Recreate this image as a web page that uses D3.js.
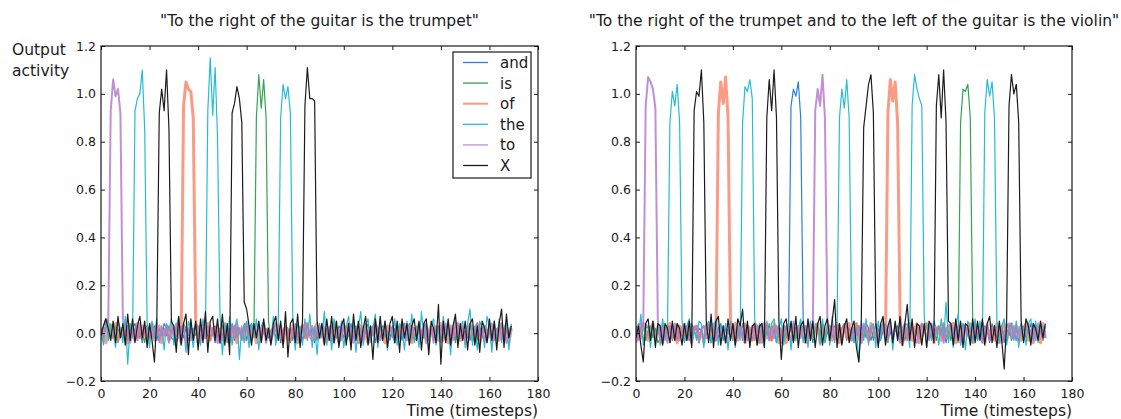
<!DOCTYPE html>
<html><head><meta charset="utf-8">
<script src="https://cdn.jsdelivr.net/npm/d3@7/dist/d3.min.js"></script>
<style>
body{margin:0;background:#fff}
svg{display:block;background:#fff}
text{font-family:"DejaVu Sans",sans-serif;fill:#1a1a1a}
</style>
</head><body>
<svg id="chart" width="1121" height="419"></svg>
<script>
// ---------- DATA ----------
const words = ["and", "is", "of", "the", "to", "X"];
const xTicks = [0, 20, 40, 60, 80, 100, 120, 140, 160, 180];
const yTicks = [-0.2, 0.0, 0.2, 0.4, 0.6, 0.8, 1.0, 1.2];
const titleLeft = "\"To the right of the guitar is the trumpet\"";
const titleRight = "\"To the right of the trumpet and to the left of the guitar is the violin\"";

// Left panel series (timesteps 0..169)
const L_and = [
.01,-.02,.03,.02,-.01,.04,-.03,.01,.02,-.02,
.03,-.01,-.03,.02,.04,-.02,.01,-.04,.02,.03,
-.02,.01,.03,-.03,.02,-.01,.04,.02,-.03,.01,
.02,-.04,.01,.03,-.02,.02,-.01,.03,-.03,.04,
-.01,.02,-.03,.01,.03,-.02,.02,-.04,.01,.02,
.03,-.02,.01,-.01,.04,-.03,.02,.01,-.02,.03,
-.03,.02,.04,-.01,-.02,.03,-.03,.01,.02,-.02,
.01,.03,-.02,.02,-.04,.01,.03,-.01,.02,-.03,
.04,-.02,.01,-.03,.02,.03,-.01,.02,-.04,.01,
-.02,.03,.02,-.01,.01,-.03,.04,-.02,.03,.01,
.02,-.03,-.01,.04,-.02,.01,.02,-.03,.01,.03,
-.01,.02,.03,-.04,.02,-.02,.01,.03,-.01,-.03,
.03,.01,-.02,.02,-.03,.04,-.01,.02,.01,-.02,
-.03,.02,.01,-.02,.04,-.01,.03,-.03,.02,.01,
.02,-.01,.03,.01,-.03,.02,-.02,.04,-.01,.02,
-.02,.04,-.03,.02,.01,-.01,.03,-.02,.02,-.04,
.01,-.02,.03,-.01,.02,.03,-.03,.01,-.02,.02];
const L_is = [
-.02,.03,.06,.05,.01,-.02,.03,-.04,.02,.01,
.02,-.03,.04,-.01,.02,.03,-.02,.01,-.04,.03,
.01,.04,-.02,.03,-.03,.01,.02,-.01,.03,-.02,
-.03,.02,.01,-.02,.04,.02,-.03,.01,.02,-.01,
.03,-.02,.02,.04,-.01,-.03,.02,.03,-.02,.01,
-.01,.03,-.04,.02,.01,.03,-.02,.02,-.03,.04,
.02,-.01,.03,.01,.90,1.08,.94,1.06,.90,.05,
-.03,.02,.04,-.02,.01,-.01,.03,.02,-.04,.02,
.01,-.03,.02,.03,-.02,.04,-.01,.01,.02,-.03,
.03,.01,-.02,.02,-.03,.01,.04,-.02,.01,.02,
-.02,.03,.01,-.04,.02,.03,-.01,.02,-.03,.01,
.04,-.02,.02,.01,-.03,.02,.03,-.02,.01,-.01,
-.01,.02,-.03,.03,.02,-.02,.01,.04,-.03,.02,
.02,.03,-.01,-.02,.04,-.03,.02,.01,-.02,.03,
-.03,.01,.02,.03,-.01,.02,-.04,.03,.01,-.02,
.01,-.02,.04,-.01,.02,-.03,.02,.01,.03,-.02,
.03,-.01,-.02,.02,.01,.04,-.03,.02,-.01,.02];
const L_of = [
-.03,.02,-.04,.03,.01,-.02,.04,-.03,.02,-.01,
.03,-.04,.02,.01,-.03,.04,-.02,.03,-.01,.02,
-.02,.04,-.03,.02,.03,-.04,.01,.02,-.03,.04,
.02,-.01,.03,-.04,.95,1.05,1.02,1.01,.90,.06,
-.04,.03,.01,-.02,.04,-.03,.02,-.01,.03,-.04,
.02,.04,-.03,.01,-.02,.03,-.04,.02,.01,-.03,
.04,-.02,.01,.03,-.04,.02,-.03,.04,-.01,.02,
-.03,.01,.04,-.02,.03,-.04,.02,.01,-.03,.03,
.01,-.04,.02,.03,-.02,.04,-.01,-.03,.02,.04,
-.02,.03,-.04,.01,.02,-.03,.04,.02,-.04,.01,
.03,-.02,.04,-.03,.01,.02,-.04,.03,.02,-.01,
-.04,.02,.01,.04,-.03,.03,-.02,-.04,.03,.02,
.02,-.03,.03,-.01,.04,-.02,.01,.03,-.04,.02,
-.01,.04,-.02,.03,-.04,.01,.03,-.02,.02,-.03,
.04,-.03,.02,-.04,.03,.02,-.01,.04,-.03,.01,
-.02,.01,.03,-.03,.02,.04,-.04,.01,.03,-.02,
.03,-.04,.02,.01,-.03,.04,-.02,.03,-.04,.02];
const L_the = [
.02,-.05,.06,-.03,.04,.01,-.06,.05,.02,-.04,
.07,-.13,.03,-.02,.93,.98,1.00,1.10,.85,.04,
-.06,.05,-.02,.06,-.04,.03,-.07,.04,.01,.06,
-.05,.02,.07,-.04,.03,-.08,.05,.02,-.06,.04,
.03,-.05,.06,-.02,.93,1.15,.91,1.11,.82,.08,
-.09,.04,-.03,.07,-.05,.02,.06,-.11,.03,-.04,
.05,-.06,.04,-.02,.06,-.07,.03,.05,-.04,.02,
-.03,.07,-.05,.03,.90,1.04,.98,1.03,.92,.06,
-.07,.04,.02,-.05,.06,-.03,.08,-.06,.03,-.09,
.04,-.02,.09,-.05,.03,-.07,.06,.02,-.04,.05,
-.06,.03,.07,-.03,.05,-.08,.02,.09,-.05,.03,
.06,-.04,.02,.08,-.06,.04,-.03,.05,-.07,.03,
-.02,.06,-.05,.04,.02,-.07,.05,-.03,.08,-.04,
.03,-.06,.09,-.02,.04,-.08,.03,.06,-.05,.02,
-.04,.07,-.03,.05,-.09,.03,.06,-.04,.02,.05,
-.06,.04,.10,-.05,.03,-.07,.05,.02,-.06,.07,
.03,-.08,.05,-.03,.06,-.04,.02,.05,-.07,.04];
const L_to = [
.02,-.01,.03,.05,.93,1.06,.99,1.02,.92,.06,
-.02,.03,-.04,.01,.02,-.03,.04,-.01,.02,-.03,
.03,-.02,.01,.04,-.03,.02,-.01,.03,-.04,.02,
-.01,.04,-.02,.01,.03,-.04,.02,-.03,.01,.03,
.02,-.03,.04,-.02,.01,.03,-.01,.02,-.04,.01,
-.03,.01,.02,-.04,.03,-.02,.04,.01,-.02,.03,
.01,.03,-.03,.02,-.01,.04,-.02,.03,-.04,.02,
-.04,.02,.01,.03,-.02,.01,.03,-.03,.02,-.01,
.03,-.01,-.04,.02,.04,-.02,.01,.03,-.03,.02,
-.02,.04,.02,-.03,.01,.03,-.04,.02,.01,-.03,
.04,-.02,.03,.01,-.04,.02,.03,-.01,-.03,.04,
-.03,.02,-.01,.04,.02,-.03,.01,.04,-.02,.01,
.02,-.04,.03,-.02,.01,.04,-.03,.02,.03,-.01,
-.01,.03,-.02,.04,-.03,.01,.02,-.04,.03,.02,
.03,-.02,.04,-.01,.02,-.03,.04,.01,-.02,.03,
-.04,.01,.02,.03,-.02,.04,-.01,.02,-.03,.01,
.02,.04,-.03,.01,.03,-.02,.02,-.04,.01,.03];
const L_X = [
-.01,.03,.06,.02,-.03,.05,-.04,.07,-.02,.04,
-.05,.08,-.03,.06,-.04,.03,.07,-.02,.05,-.06,
.04,-.03,-.12,.06,.92,1.02,.93,1.10,.85,.05,
.03,-.08,.07,-.05,.04,.08,-.09,.06,-.03,.05,
-.07,.06,-.04,.09,-.08,.05,.07,-.03,.06,-.04,
.08,-.05,.04,-.09,.92,.96,1.03,.98,.88,.13,
.10,.03,-.05,.04,-.02,.05,-.04,.06,-.03,.02,
-.05,.04,.07,-.03,.05,-.06,.09,-.10,.04,.06,
-.04,.08,-.06,.05,.95,1.11,.98,.98,.97,.05,
-.02,.04,-.05,.06,-.03,.07,-.04,.05,-.06,.03,
.06,-.05,.04,-.07,.08,-.03,.05,-.06,.02,.07,
-.05,.03,-.11,.06,-.04,.07,-.03,.05,-.06,.04,
.07,-.04,.05,-.08,.06,-.02,.04,-.05,.03,.06,
-.03,.05,-.07,.04,.06,-.09,.05,.02,-.04,.12,
-.13,.05,-.04,.06,-.05,.03,.08,-.06,.04,-.03,
.05,-.07,.04,.06,-.05,.03,-.08,.05,.02,-.04,
.06,-.03,.05,-.07,.04,.10,-.06,.08,-.02,.03];

// Right panel series (timesteps 0..169)
const R_and = [
-.02,.04,.01,-.03,.02,.03,-.01,.04,-.02,.01,
.03,-.02,.02,.01,-.04,.02,.03,-.03,.01,-.01,
-.01,.03,-.03,.04,.01,-.02,.02,.01,-.03,.04,
.02,-.04,.03,-.01,.02,.04,-.03,.02,.01,-.02,
.04,.01,-.02,.03,-.03,.02,.01,-.04,.03,.02,
-.03,.02,.04,-.02,.01,-.01,.03,.02,-.04,.03,
.01,-.03,.02,.03,.95,1.02,.99,1.05,.90,.06,
-.02,.03,.01,-.04,.02,.03,-.02,.04,-.01,.02,
.03,-.01,-.03,.02,.04,-.02,.01,.03,-.03,.01,
-.04,.02,.03,-.01,-.02,.04,.02,-.03,.01,.03,
.02,-.03,.01,.04,-.02,.01,-.04,.02,.03,-.01,
-.01,.04,-.02,.02,.03,-.03,.01,-.02,.04,.02,
.03,-.02,.04,-.03,.01,.02,-.01,.03,-.04,.01,
-.02,.01,.03,.02,-.03,.04,.02,-.01,.02,-.03,
.04,-.03,.01,-.02,.03,.01,-.04,.02,.03,-.02,
.01,.03,-.04,.02,-.01,.03,.02,-.03,.01,.04,
-.03,.02,.01,.04,-.02,.03,-.01,.02,-.03,.01];
const R_is = [
.03,-.01,.02,.04,-.03,.01,.03,-.02,.02,-.04,
-.02,.04,-.01,.03,.02,-.03,.01,.04,-.02,.01,
.01,-.03,.04,-.02,.03,.01,-.04,.02,.03,-.01,
.04,.02,-.03,.01,-.02,.03,.02,-.04,.01,.03,
-.03,.01,.02,-.01,.04,-.02,.03,.01,-.03,.02,
.02,-.04,.03,.02,-.01,.04,-.03,.02,.01,-.02,
-.01,.03,-.02,.04,.01,-.03,.02,-.01,.04,.02,
.03,-.02,.01,-.03,.02,.04,-.01,.03,-.04,.01,
-.04,.02,.03,.01,-.02,.02,.04,-.03,.02,-.01,
.02,.04,-.01,-.03,.03,-.02,.01,.02,-.03,.04,
-.02,.01,.04,.02,-.04,.03,-.02,.01,.03,-.03,
.01,-.03,.02,.03,.01,-.01,.04,-.02,-.03,.02,
.04,-.02,-.01,.02,-.03,.03,.01,.04,-.02,.01,
-.03,.02,.03,-.04,.88,1.02,1.01,1.04,.90,.05,
.02,-.01,.03,.01,-.03,.02,-.02,.04,-.01,.03,
-.01,.03,-.02,.04,.02,-.03,.01,.02,-.04,.02,
.03,-.02,.01,-.03,.04,.01,-.02,.03,.01,-.01];
const R_of = [
-.04,.03,-.02,.04,.01,-.03,.02,.04,-.03,.01,
.02,-.04,.03,-.01,.04,-.02,.01,-.04,.03,.02,
-.03,.02,.04,-.04,.02,.03,-.02,.01,-.04,.03,
.04,-.02,.01,-.03,.92,1.05,.96,1.07,.90,.06,
-.02,.04,-.03,.02,.01,-.04,.03,.02,-.03,.04,
.03,-.04,.02,.04,-.02,.01,-.03,.04,.02,-.04,
.01,.03,-.04,.02,.04,-.03,.02,-.02,.03,.01,
-.04,.02,.03,-.02,.01,.04,-.04,.03,-.01,.02,
.03,-.03,.01,.04,-.04,.02,.03,-.02,.04,-.03,
.02,.04,-.02,-.04,.03,.01,-.03,.04,.02,-.02,
-.03,.01,.04,-.02,.92,1.06,.97,1.05,.88,.07,
-.05,.03,-.02,.04,-.03,.02,.04,-.04,.01,.03,
.04,-.02,.03,-.04,.02,.01,-.03,.04,-.02,.03,
-.01,.04,-.04,.02,.03,-.03,.02,.01,.04,-.04,
.03,-.02,.02,.04,-.04,.03,-.01,.02,-.03,.04,
-.04,.02,.04,-.03,.01,.04,-.02,.03,.02,-.03,
.02,.04,-.03,.01,-.04,.03,.02,-.04,.04,-.02];
const R_the = [
.03,-.02,.08,-.05,.04,.02,-.06,.05,-.03,.04,
-.05,.06,-.03,.02,.88,1.01,.95,1.04,.88,.05,
-.04,.03,.06,-.05,.02,-.03,.05,.04,-.06,.03,
.05,-.04,.02,.06,-.05,.03,-.02,.04,-.07,.05,
.02,-.06,.04,-.03,.88,1.03,1.01,1.06,.98,.06,
-.05,.04,.02,-.06,.05,-.03,.04,.06,-.04,.02,
.06,-.05,.03,.04,-.07,.05,-.03,.02,.06,-.04,
.03,-.06,.05,-.02,.04,.03,-.05,.06,-.03,.04,
-.05,.07,-.04,.03,.90,1.02,.94,1.06,.90,.06,
-.04,.02,-.12,.05,-.03,.06,-.05,.03,.04,-.06,
.05,-.03,.06,-.04,.02,.05,-.07,.04,-.02,.06,
-.05,.03,.04,-.06,.95,1.08,1.02,.98,.95,.07,
-.06,.04,-.03,.05,.02,-.05,.06,-.03,.13,-.04,
.04,-.06,.03,.08,-.05,.04,-.07,.05,.02,-.04,
.06,-.03,.05,-.04,.92,1.06,.99,1.05,.90,.05,
-.04,.03,.06,-.05,.02,.04,-.03,.05,-.06,.03,
.02,-.05,.04,.06,-.03,.05,-.04,.02,.03,-.02];
const R_to = [
.02,-.03,.04,.03,.95,1.07,1.05,1.02,.94,.06,
-.03,.02,.01,-.04,.03,-.02,.04,.01,-.03,.02,
.04,-.01,-.03,.02,.01,.03,-.04,.02,.03,-.02,
-.02,.03,.04,-.03,.02,-.01,.03,-.04,.01,.04,
.01,-.04,.02,.03,-.02,.04,-.03,.01,.02,-.03,
.03,.02,-.04,.01,.04,-.03,.02,-.02,.03,.01,
-.04,.03,.02,-.01,-.03,.04,.01,.03,-.02,.02,
.03,-.02,.04,.02,.93,1.02,.95,1.08,.90,.06,
-.03,.04,-.02,.03,.01,-.04,.02,.04,-.01,-.03,
.02,-.01,.03,-.04,.04,.02,-.03,.01,.03,-.02,
-.04,.03,.01,.02,-.03,.04,-.02,.03,.01,-.04,
.02,.04,-.03,.01,.03,-.02,-.04,.02,.04,.01,
-.01,-.03,.04,-.02,.02,.03,.01,-.04,.02,.03,
.04,.01,-.02,.03,-.04,.02,.03,-.01,-.03,.04,
-.02,.03,.02,-.04,.01,.04,-.03,.02,.03,-.01,
.03,-.04,.01,.02,.04,-.02,.03,-.03,.01,.02,
-.03,.02,.04,-.01,.02,-.03,.04,.01,-.02,.03];
const R_X = [
-.02,.03,-.05,-.12,.04,.06,-.03,.05,-.06,.04,
.03,-.05,.04,.02,-.04,.05,-.03,.04,.02,-.05,
.04,-.03,.05,-.06,.93,1.01,.99,1.10,.88,.05,
-.04,.08,-.06,.05,.07,-.05,.03,-.04,.06,-.03,
.04,-.05,.06,.03,.10,-.04,.05,-.06,.03,.04,
-.05,.03,.04,-.06,.90,1.06,.93,1.10,.90,.05,
-.11,.04,.06,-.03,.05,-.04,.07,-.06,.03,.05,
-.04,.06,-.03,.05,-.06,.04,.07,-.05,.03,.06,
-.03,.05,.14,-.06,.04,-.05,.03,.06,-.04,.02,
.05,-.06,-.12,.04,.86,.95,1.04,1.08,.92,.05,
-.06,.04,.07,-.05,.03,.06,-.04,.05,-.03,.07,
-.05,.04,.12,-.03,.06,-.06,.04,.03,-.05,.04,
-.06,.05,.03,-.04,.95,1.08,.90,1.10,.88,.05,
.04,-.05,.06,-.03,.05,-.06,.04,.03,-.05,.06,
-.04,.05,-.03,.06,-.05,.04,.07,-.04,.03,-.06,
.05,-.03,-.15,.04,.95,1.08,1.00,1.04,.88,.05,
-.04,.06,.03,-.05,.04,.02,-.03,.05,-.02,.04];

// ---------- STYLE ----------
const colors = {and:"#2f7ed8", is:"#33a354", of:"#f87a5c", the:"#27bcd5", to:"#b57dcf", X:"#1c1c1c"};
const widths = {and:1.2, is:1.2, of:3, the:1.2, to:2, X:1.2};
const opac = {and:1, is:1, of:0.75, the:1, to:0.85, X:1};

const panels = [
  {x0:101, x1:538, title:titleLeft, legend:true, ylabel:true,
   series:{and:L_and, is:L_is, of:L_of, the:L_the, to:L_to, X:L_X}},
  {x0:636, x1:1072, title:titleRight, legend:false, ylabel:false,
   series:{and:R_and, is:R_is, of:R_of, the:R_the, to:R_to, X:R_X}}
];
const yTop = 46, yBot = 381;

const svg = d3.select("#chart");
const fmt = d3.format(".1f");

panels.forEach((p, pi) => {
  const x = d3.scaleLinear().domain([0, 180]).range([p.x0, p.x1]);
  const y = d3.scaleLinear().domain([-0.2, 1.2]).range([yBot, yTop]);
  const g = svg.append("g");

  const clipId = "clip" + pi;
  svg.append("clipPath").attr("id", clipId).append("rect")
    .attr("x", p.x0).attr("y", yTop).attr("width", p.x1 - p.x0).attr("height", yBot - yTop);

  const plot = g.append("g").attr("clip-path", `url(#${clipId})`);
  const line = d3.line().x((d, i) => x(i)).y(d => y(d));
  words.forEach(w => {
    plot.append("path").datum(p.series[w])
      .attr("d", line)
      .attr("fill", "none")
      .attr("stroke", colors[w])
      .attr("stroke-width", widths[w])
      .attr("stroke-opacity", opac[w])
      .attr("stroke-linejoin", "round");
  });

  // axes with inward ticks
  const axL = d3.axisLeft(y).tickValues(yTicks).tickSizeInner(-4).tickSizeOuter(0).tickPadding(5).tickFormat(fmt);
  const axR = d3.axisRight(y).tickValues(yTicks).tickSizeInner(-4).tickSizeOuter(0).tickFormat("");
  const axB = d3.axisBottom(x).tickValues(xTicks).tickSizeInner(-4).tickSizeOuter(0).tickPadding(8).tickFormat(d3.format("d"));
  const axT = d3.axisTop(x).tickValues(xTicks).tickSizeInner(-4).tickSizeOuter(0).tickFormat("");

  const styleAxis = sel => {
    sel.select(".domain").remove();
    sel.selectAll("line").attr("stroke", "#1a1a1a");
    sel.selectAll("text").attr("font-size", 12.5).attr("font-family", "DejaVu Sans").attr("fill", "#1a1a1a");
  };
  g.append("g").attr("transform", `translate(${p.x0},0)`).call(axL).call(styleAxis);
  g.append("g").attr("transform", `translate(${p.x1},0)`).call(axR).call(styleAxis);
  g.append("g").attr("transform", `translate(0,${yBot})`).call(axB).call(styleAxis);
  g.append("g").attr("transform", `translate(0,${yTop})`).call(axT).call(styleAxis);

  g.append("rect").attr("x", p.x0).attr("y", yTop).attr("width", p.x1 - p.x0).attr("height", yBot - yTop)
    .attr("fill", "none").attr("stroke", "#1a1a1a").attr("stroke-width", 1.2);

  // title
  g.append("text").attr("x", (p.x0 + p.x1) / 2).attr("y", 26)
    .attr("text-anchor", "middle").attr("font-size", 15.5).text(p.title);

  // x label
  g.append("text").attr("x", p.x1).attr("y", 416)
    .attr("text-anchor", "end").attr("font-size", 15.5).text("Time (timesteps)");

  if (p.ylabel) {
    g.append("text").attr("x", 12).attr("y", 55).attr("font-size", 15.5).text("Output");
    g.append("text").attr("x", 12).attr("y", 76).attr("font-size", 15.5).text("activity");
  }

  if (p.legend) {
    const lg = g.append("g");
    const bx = 453, by = 52, bw = 78, bh = 126;
    lg.append("rect").attr("x", bx).attr("y", by).attr("width", bw).attr("height", bh)
      .attr("fill", "#fff").attr("stroke", "#1a1a1a").attr("stroke-width", 1.2);
    words.forEach((w, i) => {
      const yy = by + 10.5 + i * 20.6;
      lg.append("line").attr("x1", bx + 10).attr("x2", bx + 35).attr("y1", yy).attr("y2", yy)
        .attr("stroke", colors[w]).attr("stroke-width", w === "of" ? 2 : 1.3)
        .attr("stroke-opacity", opac[w]);
      lg.append("text").attr("x", bx + 47).attr("y", yy).attr("dy", "0.36em")
        .attr("font-size", 15).text(w);
    });
  }
});
</script>
</body></html>
